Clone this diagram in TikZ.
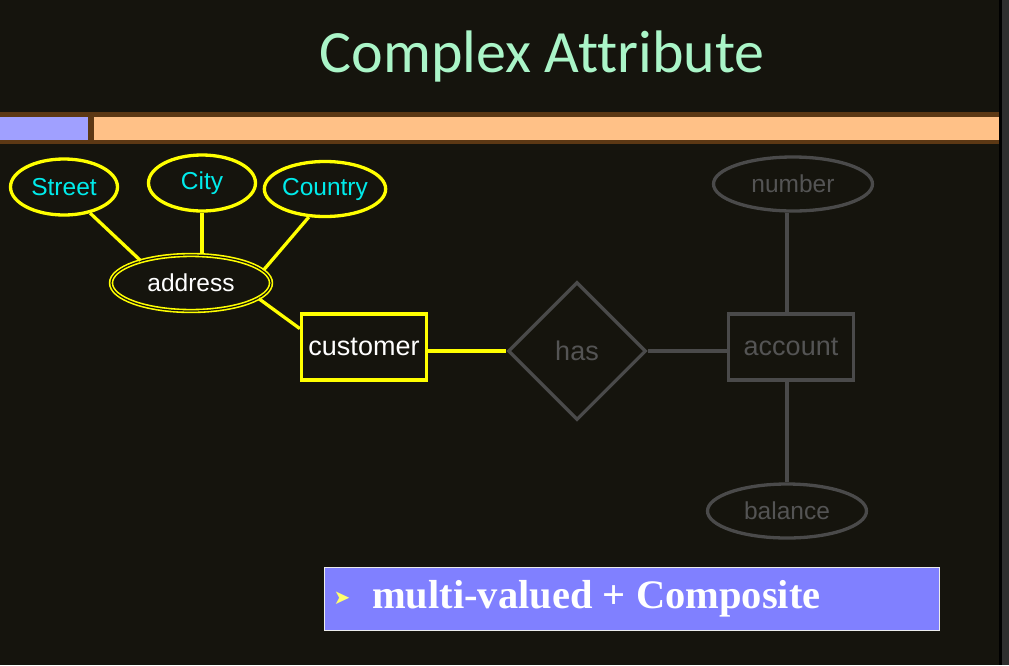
\documentclass[tikz,border=0pt]{standalone}
\usepackage{fontspec}
\setmainfont{Liberation Sans}
\newfontfamily\titlefont[Ligatures=NoCommon]{Carlito}
\newfontfamily\boxfont{Liberation Serif}
\newfontfamily\symfont{DejaVu Sans}
\usetikzlibrary{shapes.geometric}
\definecolor{slidebg}{RGB}{21,20,13}
\definecolor{stripgray}{RGB}{46,46,46}
\definecolor{titlecol}{RGB}{170,245,200}
\definecolor{barbrown}{RGB}{92,56,20}
\definecolor{barblue}{RGB}{160,160,255}
\definecolor{barpeach}{RGB}{255,193,135}
\definecolor{hiline}{RGB}{255,255,0}
\definecolor{attrtext}{RGB}{0,235,235}
\definecolor{dimline}{RGB}{74,74,74}
\definecolor{dimtext}{RGB}{84,84,84}
\definecolor{notefill}{RGB}{128,128,255}
\definecolor{bulletcol}{RGB}{255,255,110}

\begin{document}
\begin{tikzpicture}[
        x=1pt,
        y=-1pt,
        attr/.style={
            draw=hiline,
            ellipse,
            line width=3.3pt,
            inner sep=0pt,
            text=attrtext,
            font=\fontsize{24.5}{26}\selectfont,
        },
        multi/.style={
            draw=hiline,
            ellipse,
            double=slidebg,
            double distance=1.2pt,
            line width=1.6pt,
            inner sep=0pt,
            text=white,
            font=\fontsize{24.5}{26}\selectfont,
        },
        entity/.style={
            draw,
            rectangle,
            line width=3.3pt,
            minimum width=125pt,
            minimum height=66pt,
            inner sep=0pt,
            font=\fontsize{27}{29}\selectfont,
        },
        relation/.style={
            draw=dimline,
            diamond,
            aspect=1,
            line width=3.3pt,
            minimum width=138pt,
            minimum height=138pt,
            inner sep=0pt,
            text=dimtext,
            font=\fontsize{27}{29}\selectfont,
        },
        dimattr/.style={
            draw=dimline,
            ellipse,
            line width=3.3pt,
            inner sep=0pt,
            minimum width=159pt,
            minimum height=54pt,
            text=dimtext,
            font=\fontsize{24.5}{26}\selectfont,
        },
    ]

    \useasboundingbox (0,0) rectangle (1009,665);
    \fill[slidebg] (0,0) rectangle (999,665);
    \fill[black] (999,0) rectangle (1002,665);
    \fill[stripgray] (1002,0) rectangle (1009,665);

    \node[font=\titlefont\fontsize{60}{60}\selectfont, text=titlecol, anchor=base] (title) at (542,72) {Complex Attribute};

    \fill[barbrown] (0,112) rectangle (999,144);
    \fill[barblue] (0,117) rectangle (88,140);
    \fill[barpeach] (94,117) rectangle (999,140);

    \node[attr, minimum width=107pt, minimum height=56pt] (street) at (64,187) {Street};
    \node[attr, minimum width=107pt, minimum height=56pt] (city) at (202,183) {City};
    \node[attr, minimum width=107pt, minimum height=55pt] (country) at (325,189) {Country};
    \node[multi, minimum width=160pt, minimum height=56pt] (address) at (191,283) {address};
    \node[entity, draw=hiline, text=white] (customer) at (364,347) {customer};

    \node[relation] (has) at (577,351) {has};
    \node[entity, draw=dimline, text=dimtext] (account) at (791,347) {account};
    \node[dimattr] (number) at (793,184) {number};
    \node[dimattr] (balance) at (787,511) {balance};

    \begin{scope}[draw=hiline, line width=3.3pt]
        \draw (street.-45) -- (address.156);
        \draw (city.south) -- (city.south |- address.north);
        \draw (country.240) -- (address.10);
        \draw (address.-13) -- (customer.164);
        \draw (customer.east |- has.west) -- (has.west);
    \end{scope}

    \begin{scope}[draw=dimline, line width=3.3pt]
        \draw (has.east) -- (account.west |- has.east);
        \draw (balance.north |- account.north) -- (balance.north |- number.south);
        \draw (balance.north |- account.south) -- (balance.north);
    \end{scope}

    \node[draw=white!85!gray, fill=notefill, line width=1pt, minimum width=615pt, minimum height=63pt, inner sep=0pt, anchor=north west] (note) at (323.5,566.5) {};
    \node[text=bulletcol, font=\symfont\fontsize{20}{20}\selectfont] (bullet) at (342,598) {➤};
    \node[text=white, font=\boxfont\bfseries\fontsize{40.5}{42}\selectfont, anchor=base west, inner sep=0pt] (notetext) at (372,608) {multi-valued + Composite};
\end{tikzpicture}
\end{document}
